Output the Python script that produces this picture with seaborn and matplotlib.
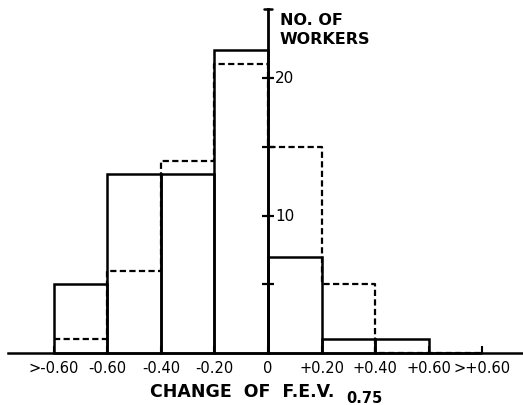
import numpy as np
import pandas as pd
import matplotlib
matplotlib.use("Agg")
import matplotlib.pyplot as plt
import seaborn as sns

# bins of change of F.E.V. 0.75 (bin edges labelled)
edge_labels = [">-0.60", "-0.60", "-0.40", "-0.20", "0", "+0.20", "+0.40", "+0.60", ">+0.60"]
solid_counts = [5, 13, 13, 22, 7, 1, 1, 0]
dashed_counts = [1, 6, 14, 21, 15, 5, 0, 0]
y_ticks = [5, 10, 15, 20]
y_tick_labels = ["", "10", "", "20"]

edges = [float(i) for i in range(len(edge_labels))]
centers = [e + 0.5 for e in edges[:-1]]
df = pd.DataFrame({"bin": centers, "solid": solid_counts, "dashed": dashed_counts})

sns.set_style("white")
plt.rcParams["font.family"] = ["DejaVu Sans"]
plt.rcParams["text.color"] = "black"
plt.rcParams["xtick.color"] = "black"
plt.rcParams["ytick.color"] = "black"

fig = plt.figure(figsize=(5.23, 4.06), dpi=100)
ax = fig.add_axes([0, 0, 1, 1])

sns.histplot(data=df, x="bin", weights="solid", bins=edges, element="bars",
             fill=False, color="black", linewidth=1.8, ax=ax)
sns.histplot(data=df, x="bin", weights="dashed", bins=edges, element="step",
             fill=False, color="black", linewidth=1.6, linestyle=(0, (2.8, 1.5)), ax=ax)

ax.set_xlim(-1.009, 8.766)
ax.set_ylim(-3.78, 25.745)

# axes crossing at 0
for s in ["top", "right"]:
    ax.spines[s].set_visible(False)
ax.spines["left"].set_position(("data", 4))
ax.spines["bottom"].set_position(("data", 0))
ax.spines["left"].set_bounds(0, 25)
ax.spines["bottom"].set_bounds(-0.86, 8.766)
ax.spines["left"].set_linewidth(2.0)
ax.spines["bottom"].set_linewidth(1.8)
ax.spines["left"].set_color("black")
ax.spines["bottom"].set_color("black")

ax.set_xticks(edges)
ax.set_xticklabels(edge_labels, fontsize=10.5, color="black")
ax.tick_params(axis="x", bottom=True, direction="in", length=5, width=1.5, pad=5, colors="black")
ax.set_yticks(y_ticks)
ax.set_yticklabels([])
ax.tick_params(axis="y", left=True, direction="inout", length=9, width=1.6, colors="black")
ax.set_xlabel("")
ax.set_ylabel("")

# cap on top of the y axis
ax.plot([3.93, 4.07], [25, 25], color="black", lw=1.8)

for v, lab in zip(y_ticks, y_tick_labels):
    if lab:
        ax.text(4.13, v, lab, ha="left", va="center", fontsize=11, color="black")

ax.text(4.22, 24.25, "NO. OF", ha="left", va="center", fontsize=11.5, fontweight="bold", color="black")
ax.text(4.22, 22.85, "WORKERS", ha="left", va="center", fontsize=11.5, fontweight="bold", color="black")

ax.text(3.51, -2.76, "CHANGE  OF  F.E.V.", ha="center", va="center", fontsize=12.5,
        fontweight="bold", color="black")
ax.text(5.81, -3.25, "0.75", ha="center", va="center", fontsize=10.5, fontweight="bold", color="black")

fig.savefig("out.png", dpi=100)
